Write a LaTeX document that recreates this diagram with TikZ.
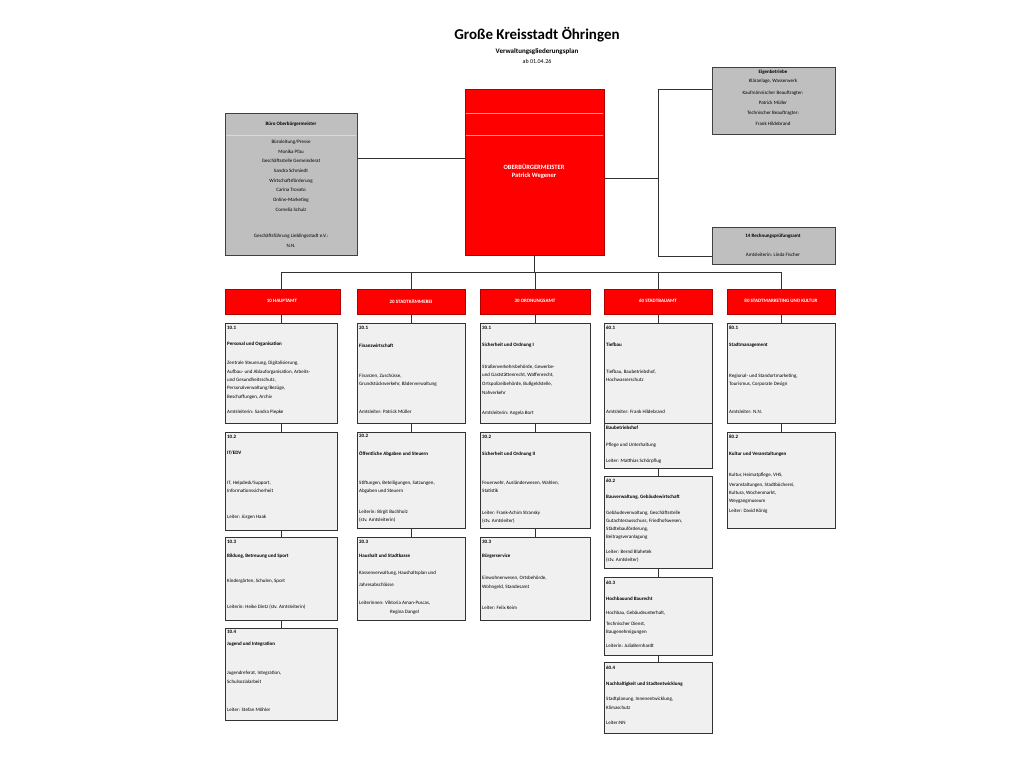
\documentclass[tikz,border=0pt]{standalone}
\usepackage{fontspec}
\setmainfont{Carlito}
\begin{document}
\begin{tikzpicture}[x=1pt,y=-1pt,
  sub/.style={draw=black!80,line width=0.9pt,fill=black!6},
  gray/.style={draw=black!75,line width=0.9pt,fill=black!25},
  redb/.style={draw=red!70!black,line width=0.8pt,fill=red},
  con/.style={draw=black!80,line width=0.7pt},
  tt/.style={anchor=west,inner sep=0pt,font=\fontsize{5}{6}\selectfont},
  tc/.style={inner sep=0pt,font=\fontsize{5}{6}\selectfont},
  dep/.style={inner sep=0pt,text=white,font=\fontsize{5}{6}\selectfont\bfseries}]
\useasboundingbox (0,0) rectangle (1024,768);
\newcommand\tl[3]{\node[tt] at (#1,#2) {#3};}
\newcommand\tb[3]{\node[tt,font=\fontsize{5}{6}\selectfont\bfseries] at (#1,#2) {#3};}
\newcommand\tm[3]{\node[tc] at (#1,#2) {#3};}
\newcommand\tmb[3]{\node[tc,font=\fontsize{5}{6}\selectfont\bfseries] at (#1,#2) {#3};}
\newcommand\bx[6]{\path[#6] (#2,#3) rectangle (#4,#5); \coordinate (#1t) at ({(#2+#4)/2},#3); \coordinate (#1b) at ({(#2+#4)/2},#5);}
% title
\node[font=\fontsize{15}{17}\selectfont\bfseries] (title) at (537,35) {Große Kreisstadt Öhringen};
\node[font=\fontsize{7}{8}\selectfont\bfseries] (sub) at (537,52) {Verwaltungsgliederungsplan};
\node[font=\fontsize{6}{7}\selectfont] (date) at (537,61) {ab 01.04.26};
% connectors top
\draw[con] (357,158) -- (465,158);
\draw[con] (604,178) -- (658,178);
\draw[con] (712,89) -- (658,89) -- (658,256) -- (712,256);
\draw[con] (534,255) -- (534,272);
\draw[con] (281,289) -- (281,272) -- (781,272) -- (781,289);
\foreach \x in {411,535,658} \draw[con] (\x,272) -- (\x,289);
% column connectors
\foreach \x/\a/\b in {281/314/323,281/423/432,281/530/537,281/620/628,
  411/314/323,411/423/432,411/528/537,535/314/323,535/423/432,535/528/537,
  658/314/323,658/468/476,658/568/577,658/655/662,781/314/323,781/423/432}
  \draw[con] (\x,\a) -- (\x,\b);
% Büro
\bx{buero}{225}{113}{357}{255}{gray}
\draw[white!85!black,line width=0.4pt] (226,135) -- (356,135);
\tmb{291}{124}{Büro Oberbürgermeister}
\tm{291}{142}{Büroleitung/Presse}
\tm{291}{152}{Monika Pfau}
\tm{291}{161}{Geschäftsstelle Gemeinderat}
\tm{291}{171}{Sandra Schmiedt}
\tm{291}{181}{Wirtschaftsförderung}
\tm{291}{190}{Carina Trovato}
\tm{291}{200}{Online-Marketing}
\tm{291}{210}{Cornelia Schulz}
\tm{291}{236}{Geschäftsführung Lieblingsstadt e.V.:}
\tm{291}{246}{N.N.}
% OB
\bx{ob}{465}{89}{604}{255}{redb}
\draw[red!40!white,line width=0.4pt] (466,113) -- (603,113) (466,135) -- (603,135);
\node[dep,font=\fontsize{6.5}{8}\selectfont\bfseries,align=center] (obt) at (534,171) {OBERBÜRGERMEISTER\\Patrick Wegener};
% Eigenbetriebe
\bx{eig}{712}{67}{835}{134}{gray}
\tmb{773}{72}{Eigenbetriebe}
\tm{773}{81}{Kläranlage, Wasserwerk}
\tm{773}{93}{Kaufmännischer Beauftragter:}
\tm{773}{103}{Patrick Müller}
\tm{773}{113}{Technischer Beauftragter:}
\tm{773}{124}{Frank Hildebrand}
\bx{rpa}{712}{227}{835}{264}{gray}
\tmb{773}{236}{14 Rechnungsprüfungsamt}
\tm{773}{255}{Amtsleiterin: Linda Fischer}
% departments
\bx{d10}{225}{289}{340}{314}{redb}\node[dep] at (282,301) {10 HAUPTAMT};
\bx{d20}{357}{289}{465}{314}{redb}\node[dep] at (411,301) {20 STADTKÄMMEREI};
\bx{d30}{480}{289}{590}{314}{redb}\node[dep] at (535,301) {30 ORDNUNGSAMT};
\bx{d60}{604}{289}{712}{314}{redb}\node[dep] at (658,301) {60 STADTBAUAMT};
\bx{d80}{727}{289}{835}{314}{redb}\node[dep] at (781,301) {80 STADTMARKETING UND KULTUR};
% col 1
\bx{a1}{225}{323}{337}{423}{sub}
\tb{227}{328}{10.1}\tb{227}{344}{Personal und Organisation}
\tl{227}{363}{Zentrale Steuerung, Digitalisierung,}\tl{227}{372}{Aufbau- und Ablauforganisation, Arbeits-}
\tl{227}{380}{und Gesundheitsschutz,}\tl{227}{388}{Personalverwaltung/Bezüge,}\tl{227}{397}{Beschaffungen, Archiv}
\tl{227}{412}{Amtsleiterin: Sandra Piepke}
\bx{a2}{225}{432}{337}{530}{sub}
\tb{227}{437}{10.2}\tb{227}{453}{IT/EDV}\tl{227}{483}{IT, Helpdesk/Support,}\tl{227}{491}{Informationssicherheit}\tl{227}{517}{Leiter: Jürgen Haak}
\bx{a3}{225}{537}{337}{620}{sub}
\tb{227}{542}{10.3}\tb{227}{556}{Bildung, Betreuung und Sport}\tl{227}{581}{Kindergärten, Schulen, Sport}\tl{227}{607}{Leiterin: Heike Dietz (stv. Amtsleiterin)}
\bx{a4}{225}{628}{337}{720}{sub}
\tb{227}{632}{10.4}\tb{227}{644}{Jugend und Integration}\tl{227}{673}{Jugendreferat, Integration,}\tl{227}{682}{Schulsozialarbeit}\tl{227}{710}{Leiter: Stefan Möhler}
% col 2
\bx{b1}{357}{323}{465}{423}{sub}
\tb{359}{328}{20.1}\tb{359}{346}{Finanzwirtschaft}\tl{359}{376}{Finanzen, Zuschüsse,}\tl{359}{384}{Grundstücksverkehr, Bäderverwaltung}\tl{359}{412}{Amtsleiter: Patrick Müller}
\bx{b2}{357}{432}{465}{528}{sub}
\tb{359}{436}{20.2}\tb{359}{454}{Öffentliche Abgaben und Steuern}\tl{359}{483}{Stiftungen, Beteiligungen, Satzungen,}\tl{359}{491}{Abgaben und Steuern}\tl{359}{512}{Leiterin: Birgit Buchholz}\tl{359}{520}{(stv. Amtsleiterin)}
\bx{b3}{357}{537}{465}{620}{sub}
\tb{359}{542}{20.3}\tb{359}{556}{Haushalt und Stadtkasse}\tl{359}{573}{Kassenverwaltung, Haushaltsplan und}\tl{359}{585}{Jahresabschlüsse}\tl{359}{603}{Leiterinnen: Viktoria Aman-Puscas,}\tl{390}{612}{Regina Dangel}
% col 3
\bx{c1}{480}{323}{590}{423}{sub}
\tb{482}{328}{30.1}\tb{482}{345}{Sicherheit und Ordnung I}\tl{482}{367}{Straßenverkehrsbehörde, Gewerbe-}\tl{482}{375}{und Gaststättenrecht, Waffenrecht,}\tl{482}{384}{Ortspolizeibehörde, Bußgeldstelle,}\tl{482}{393}{Nahverkehr}\tl{482}{413}{Amtsleiterin: Angela Bort}
\bx{c2}{480}{432}{590}{528}{sub}
\tb{482}{437}{30.2}\tb{482}{454}{Sicherheit und Ordnung II}\tl{482}{483}{Feuerwehr, Ausländerwesen, Wahlen,}\tl{482}{491}{Statistik}\tl{482}{513}{Leiter: Frank-Achim Stransky}\tl{482}{521}{(stv. Amtsleiter)}
\bx{c3}{480}{537}{590}{620}{sub}
\tb{482}{542}{30.3}\tb{482}{556}{Bürgerservice}\tl{482}{578}{Einwohnerwesen, Ortsbehörde,}\tl{482}{587}{Wohngeld, Standesamt}\tl{482}{608}{Leiter: Felix Keim}
% col 4
\bx{e1}{604}{323}{712}{468}{sub}
\draw[black!80,line width=0.8pt] (604,423) -- (712,423);
\tb{606}{328}{60.1}\tb{606}{345}{Tiefbau}\tl{606}{372}{Tiefbau, Baubetriebshof,}\tl{606}{380}{Hochwasserschutz}\tl{606}{412}{Amtsleiter: Frank Hildebrand}
\tb{606}{428}{Baubetriebshof}\tl{606}{445}{Pflege und Unterhaltung}\tl{606}{461}{Leiter: Matthias Schörpflug}
\bx{e2}{604}{476}{712}{568}{sub}
\tb{606}{481}{60.2}\tb{606}{497}{Bauverwaltung, Gebäudewirtschaft}\tl{606}{513}{Gebäudeverwaltung, Geschäftsstelle}\tl{606}{521}{Gutachterausschuss, Friedhofswesen,}\tl{606}{529}{Städtebauförderung,}\tl{606}{537}{Beitragsveranlagung}\tl{606}{552}{Leiter: Bernd Blahetek}\tl{606}{560}{(stv. Amtsleiter)}
\bx{e3}{604}{577}{712}{655}{sub}
\tb{606}{583}{60.3}\tb{606}{599}{Hochbauund Baurecht}\tl{606}{613}{Hochbau, Gebäudeunterhalt,}\tl{606}{624}{Technischer Dienst,}\tl{606}{632}{Baugenehmigungen}\tl{606}{646}{Leiterin: JuliaBernhardt}
\bx{e4}{604}{662}{712}{733}{sub}
\tb{606}{668}{60.4}\tb{606}{684}{Nachhaltigkeit und Stadtentwicklung}\tl{606}{699}{Stadtplanung, Innenentwicklung,}\tl{606}{708}{Klimaschutz}\tl{606}{723}{Leiter:NN}
% col 5
\bx{f1}{727}{323}{835}{423}{sub}
\tb{729}{328}{80.1}\tb{729}{345}{Stadtmanagement}\tl{729}{376}{Regional- und Standortmarketing,}\tl{729}{384}{Tourismus, Corporate Design}\tl{729}{412}{Amtsleiter: N.N.}
\bx{f2}{727}{432}{835}{528}{sub}
\tb{729}{437}{80.2}\tb{729}{454}{Kultur und Veranstaltungen}\tl{729}{475}{Kultur, Heimatpflege, VHS,}\tl{729}{485}{Veranstaltungen, Stadtbücherei,}\tl{729}{493}{Kultura, Wochenmarkt,}\tl{729}{501}{Weygangmuseum}\tl{729}{511}{Leiter: David König}
\end{tikzpicture}
\end{document}
